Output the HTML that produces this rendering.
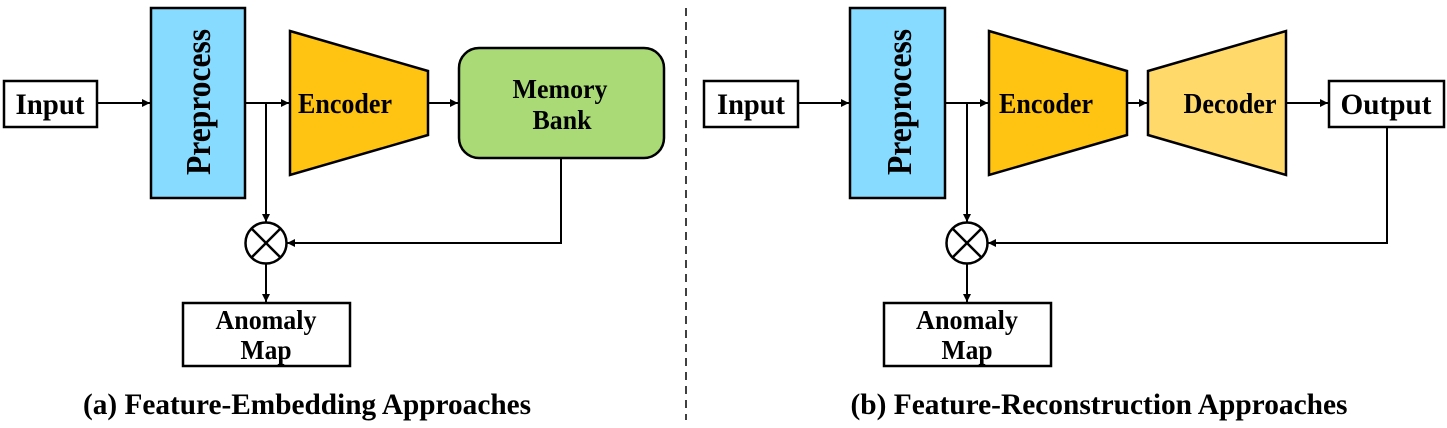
<!DOCTYPE html>
<html><head><meta charset="utf-8"><style>
html,body{margin:0;padding:0;background:#fff;}
svg{display:block;}
text{font-family:"Liberation Serif",serif;font-weight:bold;fill:#000;}
</style></head><body>
<svg width="1447" height="428" viewBox="0 0 1447 428" xmlns="http://www.w3.org/2000/svg">
<defs>
<marker id="a" markerWidth="10" markerHeight="10" refX="9" refY="5" orient="auto" markerUnits="userSpaceOnUse">
<path d="M1,1 L9,5 L1,9 Z" fill="#000"/>
</marker>
</defs>
<g stroke="#000" stroke-width="2.5" fill="none">
<rect x="4" y="81" width="93" height="46" fill="#fff"/>
<rect x="151" y="8" width="94" height="190" fill="#87DBFF"/>
<polygon points="290,31 428,71 428,135 290,175" fill="#FFC312"/>
<rect x="459" y="48" width="205" height="110" rx="20" fill="#A9DA76"/>
<circle cx="266" cy="243" r="20.5" fill="#fff"/>
<line x1="252" y1="229" x2="280" y2="257"/>
<line x1="280" y1="229" x2="252" y2="257"/>
<rect x="183" y="303" width="167" height="63" fill="#fff"/>
</g>
<g stroke="#000" stroke-width="2" fill="none">
<line x1="97" y1="103" x2="150" y2="103" marker-end="url(#a)"/>
<line x1="245" y1="103" x2="289" y2="103" marker-end="url(#a)"/>
<line x1="428" y1="103" x2="458" y2="103" marker-end="url(#a)"/>
<line x1="266" y1="103" x2="266" y2="222" marker-end="url(#a)"/>
<polyline points="561,158 561,243 287,243" marker-end="url(#a)"/>
<line x1="266" y1="264" x2="266" y2="302" marker-end="url(#a)"/>
</g>
<text x="50" y="114" font-size="30" text-anchor="middle" textLength="69" lengthAdjust="spacingAndGlyphs">Input</text>
<text transform="translate(210,102) rotate(-90)" x="0" y="0" font-size="35" text-anchor="middle" textLength="146" lengthAdjust="spacingAndGlyphs">Preprocess</text>
<text x="345" y="113" font-size="28" text-anchor="middle" textLength="94" lengthAdjust="spacingAndGlyphs">Encoder</text>
<text x="560" y="98" font-size="27" text-anchor="middle" textLength="95" lengthAdjust="spacingAndGlyphs">Memory</text>
<text x="562" y="129" font-size="27" text-anchor="middle" textLength="59" lengthAdjust="spacingAndGlyphs">Bank</text>
<text x="266" y="329" font-size="27" text-anchor="middle" textLength="101" lengthAdjust="spacingAndGlyphs">Anomaly</text>
<text x="266" y="359" font-size="27" text-anchor="middle" textLength="51" lengthAdjust="spacingAndGlyphs">Map</text>
<text x="307" y="414" font-size="30" text-anchor="middle" textLength="448" lengthAdjust="spacingAndGlyphs">(a) Feature-Embedding Approaches</text>

<line x1="686" y1="8" x2="686" y2="420" stroke="#000" stroke-width="1.5" stroke-dasharray="8,6"/>

<g stroke="#000" stroke-width="2.5" fill="none">
<rect x="704" y="81" width="94" height="46" fill="#fff"/>
<rect x="850" y="8" width="95" height="190" fill="#87DBFF"/>
<polygon points="989,31 1127,71 1127,135 989,175" fill="#FFC312"/>
<polygon points="1148,71 1286,31 1286,175 1148,135" fill="#FFDA6B"/>
<rect x="1329" y="81" width="115" height="46" fill="#fff"/>
<circle cx="967" cy="243" r="20.5" fill="#fff"/>
<line x1="953" y1="229" x2="981" y2="257"/>
<line x1="981" y1="229" x2="953" y2="257"/>
<rect x="884" y="303" width="167" height="63" fill="#fff"/>
</g>
<g stroke="#000" stroke-width="2" fill="none">
<line x1="798" y1="103" x2="849" y2="103" marker-end="url(#a)"/>
<line x1="945" y1="103" x2="988" y2="103" marker-end="url(#a)"/>
<line x1="1127" y1="103" x2="1147" y2="103" marker-end="url(#a)"/>
<line x1="1286" y1="103" x2="1328" y2="103" marker-end="url(#a)"/>
<line x1="967" y1="103" x2="967" y2="222" marker-end="url(#a)"/>
<polyline points="1387,127 1387,243 988,243" marker-end="url(#a)"/>
<line x1="967" y1="264" x2="967" y2="302" marker-end="url(#a)"/>
</g>
<text x="751" y="114" font-size="30" text-anchor="middle" textLength="68" lengthAdjust="spacingAndGlyphs">Input</text>
<text transform="translate(911,102) rotate(-90)" x="0" y="0" font-size="35" text-anchor="middle" textLength="146" lengthAdjust="spacingAndGlyphs">Preprocess</text>
<text x="1046" y="113" font-size="28" text-anchor="middle" textLength="94" lengthAdjust="spacingAndGlyphs">Encoder</text>
<text x="1230" y="113" font-size="28" text-anchor="middle" textLength="93" lengthAdjust="spacingAndGlyphs">Decoder</text>
<text x="1386" y="114" font-size="30" text-anchor="middle" textLength="91" lengthAdjust="spacingAndGlyphs">Output</text>
<text x="967" y="329" font-size="27" text-anchor="middle" textLength="102" lengthAdjust="spacingAndGlyphs">Anomaly</text>
<text x="967" y="359" font-size="27" text-anchor="middle" textLength="51" lengthAdjust="spacingAndGlyphs">Map</text>
<text x="1099" y="414" font-size="30" text-anchor="middle" textLength="497" lengthAdjust="spacingAndGlyphs">(b) Feature-Reconstruction Approaches</text>
</svg>
</body></html>
